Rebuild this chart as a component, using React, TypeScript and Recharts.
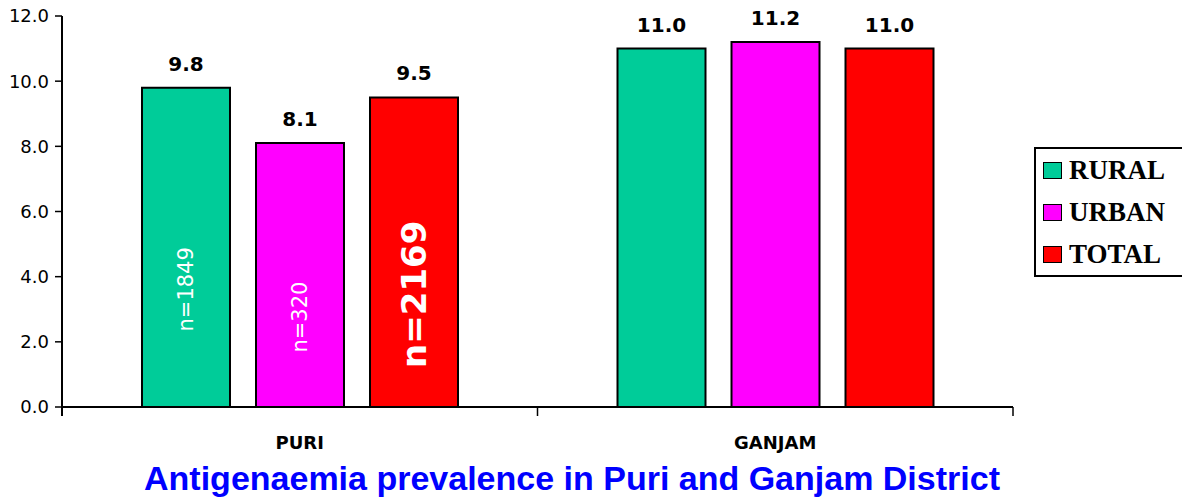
import React from 'react'
import { BarChart, Bar, XAxis, YAxis, LabelList } from 'recharts'

const districts = ['PURI', 'GANJAM']
const rural = [9.8, 11.0]
const urban = [8.1, 11.2]
const total = [9.5, 11.0]
const ruralN = ['n=1849', '']
const urbanN = ['n=320', '']
const totalN = ['n=2169', '']
const yTicks = [0, 2, 4, 6, 8, 10, 12]

const data = districts.map((d, i) => ({
  district: d,
  rural: rural[i],
  urban: urban[i],
  total: total[i],
  ruralN: ruralN[i],
  urbanN: urbanN[i],
  totalN: totalN[i],
}))

const series = [
  { key: 'rural', name: 'RURAL', color: '#00CC99', nKey: 'ruralN', nSize: 21, nWeight: 400 },
  { key: 'urban', name: 'URBAN', color: '#FF00FF', nKey: 'urbanN', nSize: 21, nWeight: 400 },
  { key: 'total', name: 'TOTAL', color: '#FF0000', nKey: 'totalN', nSize: 34, nWeight: 700 },
]

const sans = 'DejaVu Sans, Verdana, sans-serif'
const W = 1182
const H = 500
const margin = { top: 16, right: 169, bottom: 63, left: 0 }
const yAxisWidth = 62
const halfBand = (W - margin.left - margin.right - yAxisWidth) / districts.length / 2
const labelGap = 29 // tickSize + tickMargin of the category axis

// category label plus the small tick marks at the category boundaries
function DistrictTick(props: any) {
  const { x, y, payload, index } = props
  const top = y - labelGap
  return (
    <g>
      <line x1={x + halfBand} x2={x + halfBand} y1={top} y2={top + 9} stroke="#000" strokeWidth={1.5} />
      {index === 0 && (
        <line x1={x - halfBand} x2={x - halfBand} y1={top} y2={top + 9} stroke="#000" strokeWidth={2} />
      )}
      <text x={x} y={y} dy="0.71em" textAnchor="middle" fill="#000" fontSize={18} fontWeight={700} fontFamily={sans}>
        {payload.value}
      </text>
    </g>
  )
}

// n= labels sit a bit below the middle of the bar, rotated
function InnerLabel(props: any) {
  const { x, y, width, height, value, size, weight } = props
  if (!value) return null
  const cx = x + width / 2
  const cy = y + height / 2 + 42
  return (
    <text
      x={cx}
      y={cy}
      fill="#fff"
      fontSize={size}
      fontWeight={weight}
      fontFamily={sans}
      textAnchor="middle"
      dominantBaseline="central"
      transform={`rotate(-90 ${cx} ${cy})`}
    >
      {value}
    </text>
  )
}

function LegendBox() {
  return (
    <div
      style={{
        position: 'absolute',
        left: 1034,
        top: 147,
        width: 160,
        height: 130,
        border: '2px solid #000',
        background: '#fff',
        paddingLeft: 7,
        boxSizing: 'border-box',
      }}
    >
      {series.map((s) => (
        <div key={s.key} style={{ display: 'flex', alignItems: 'center', height: 42 }}>
          <span
            style={{
              display: 'inline-block',
              width: 17,
              height: 15,
              background: s.color,
              border: '1.5px solid #000',
              marginRight: 7,
            }}
          />
          <span
            style={{
              fontFamily: 'Liberation Serif, Times New Roman, serif',
              fontWeight: 700,
              fontSize: 27,
              color: '#000',
              lineHeight: '27px',
            }}
          >
            {s.name}
          </span>
        </div>
      ))}
    </div>
  )
}

export default function App(): React.ReactElement {
  return (
    <div style={{ position: 'absolute', left: 0, top: 0, width: W, height: H, overflow: 'hidden', background: '#fff' }}>
      <BarChart width={W} height={H} data={data} margin={margin} barSize={88} barGap={26}>
        <XAxis
          dataKey="district"
          axisLine={{ stroke: '#000', strokeWidth: 2 }}
          tickLine={false}
          height={30}
          tick={<DistrictTick />}
          tickSize={6}
          tickMargin={23}
        />
        <YAxis
          domain={[0, 12]}
          ticks={yTicks}
          width={yAxisWidth}
          interval={0}
          tickFormatter={(v: number) => v.toFixed(1)}
          axisLine={{ stroke: '#000', strokeWidth: 2 }}
          tickLine={{ stroke: '#000', strokeWidth: 1.5 }}
          tickSize={7}
          tickMargin={6}
          tick={{ fill: '#000', fontSize: 18, fontFamily: sans }}
        />
        {series.map((s) => (
          <Bar
            key={s.key}
            dataKey={s.key}
            name={s.name}
            fill={s.color}
            stroke="#000"
            strokeWidth={2}
            isAnimationActive={false}
          >
            <LabelList
              dataKey={s.key}
              position="top"
              offset={17}
              formatter={(v: number) => v.toFixed(1)}
              style={{ fill: '#000', fontSize: 20, fontWeight: 700, fontFamily: sans }}
            />
            <LabelList
              dataKey={s.nKey}
              content={(p: any) => <InnerLabel {...p} size={s.nSize} weight={s.nWeight} />}
            />
          </Bar>
        ))}
      </BarChart>
      <LegendBox />
      <div
        style={{
          position: 'absolute',
          left: 0,
          top: 461,
          width: 1144,
          textAlign: 'center',
          color: '#0000FF',
          fontFamily: 'Liberation Sans, Arial, sans-serif',
          fontWeight: 700,
          fontSize: 34,
          lineHeight: '34px',
        }}
      >
        Antigenaemia prevalence in Puri and Ganjam District
      </div>
    </div>
  )
}
